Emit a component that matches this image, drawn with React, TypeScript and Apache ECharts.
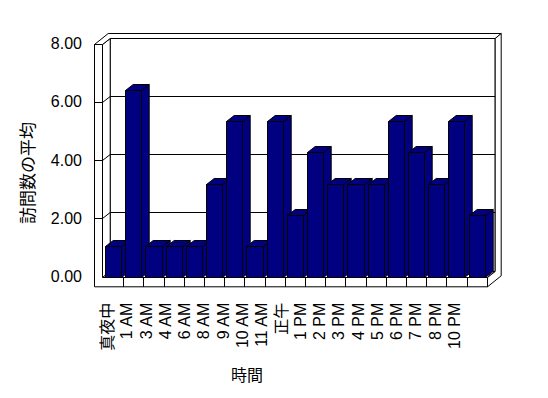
import React, { useEffect, useRef } from "react";
import * as echarts from "echarts";

const categories = ["真夜中", "1 AM", "3 AM", "4 AM", "6 AM", "8 AM", "9 AM", "10 AM", "11 AM", "正午", "1 PM", "2 PM", "3 PM", "4 PM", "5 PM", "6 PM", "7 PM", "8 PM", "10 PM"];
const visitAverages = [1.07, 6.4, 1.07, 1.07, 1.07, 3.2, 5.33, 1.07, 5.33, 2.13, 4.27, 3.2, 3.2, 3.2, 5.33, 4.27, 3.2, 5.33, 2.13];
const yTicks = [0, 2, 4, 6, 8];
const yAxisTitle = "訪問数の平均";
const xAxisTitle = "時間";

const W = 548;
const H = 398;
const FONT = '"Liberation Sans", Arial, "Noto Sans CJK JP", sans-serif';
const BAR = "#000080";
const DX = 7.7;
const DY = -6;
const DX2 = 6;
const DY2 = -5;
const WALL = 8;
const SLAB = 9.3;

const px = (v: number) => Math.round(v) + 0.5;

export default function App() {
  const ref = useRef<HTMLDivElement>(null);
  useEffect(() => {
    const chart = echarts.init(ref.current!, null, { renderer: "svg", width: W, height: H });
    chart.setOption({
      animation: false,
      backgroundColor: "#fff",
      grid: [
        { left: 103, right: 61.3, top: 43.7, bottom: 121.3 },
        { left: 97.9, right: 83.9, top: 43.7, bottom: 121.3 },
      ],
      xAxis: [
        { type: "category", data: categories, gridIndex: 0, axisLine: { show: false }, axisTick: { show: false }, axisLabel: { show: false } },
        {
          type: "category", data: categories, gridIndex: 1,
          axisLine: { show: false }, axisTick: { show: false },
          axisLabel: { interval: 0, rotate: 90, margin: 26, fontSize: 16, color: "#000", fontFamily: FONT },
        },
      ],
      yAxis: [
        {
          type: "value", gridIndex: 0, min: yTicks[0], max: yTicks[yTicks.length - 1], interval: 2,
          axisLine: { show: false }, axisTick: { show: false }, splitLine: { show: false },
          axisLabel: { margin: 21, fontSize: 16, color: "#000", fontFamily: FONT, formatter: (v: number) => v.toFixed(2) },
        },
        { type: "value", gridIndex: 1, min: 0, max: 8, show: false },
      ],
      series: [
        {
          type: "custom",
          xAxisIndex: 0,
          yAxisIndex: 0,
          data: categories.map((c, i) => [i, visitAverages[i]]),
          encode: { x: 0, y: 1 },
          renderItem: (params: any, api: any) => {
            const idx = api.value(0);
            const v = api.value(1);
            const top = api.coord([idx, v]);
            const bot = api.coord([idx, 0]);
            const band = api.size([1, 0])[0];
            const bw = band * 0.8;
            const x0 = px(top[0] - bw / 2);
            const x1 = px(top[0] + bw / 2);
            const yT = px(top[1]);
            const yB = px(bot[1]);
            const st = { fill: BAR, stroke: "#000", lineWidth: 1 };
            const children: any[] = [
              { type: "polygon", shape: { points: [[x1, yT], [x1 + DX, yT + DY], [x1 + DX, yB + DY], [x1, yB]] }, style: st },
              { type: "polygon", shape: { points: [[x0, yT], [x1, yT], [x1 + DX, yT + DY], [x0 + DX, yT + DY]] }, style: st },
              { type: "rect", shape: { x: x0, y: yT, width: x1 - x0, height: yB - yT }, style: st },
            ];
            if (idx > 0) {
              const xs = px(bot[0] - band / 2);
              children.push({ type: "line", shape: { x1: xs, y1: yB, x2: xs, y2: yB + SLAB }, style: { stroke: "#000", lineWidth: 1 } });
            }
            return { type: "group", children };
          },
        },
      ],
    });

    const yOf = (v: number) => chart.convertToPixel({ yAxisIndex: 0 }, v) as number;
    const c0 = chart.convertToPixel({ xAxisIndex: 0 }, 0) as number;
    const c1 = chart.convertToPixel({ xAxisIndex: 0 }, 1) as number;
    const band = c1 - c0;
    const xI = px(c0 - band / 2 - 1);
    const xL = xI - WALL;
    const xR = px((chart.convertToPixel({ xAxisIndex: 0 }, categories.length - 1) as number) + band / 2);
    const yT = px(yOf(yTicks[yTicks.length - 1]));
    const yB = px(yOf(0));
    const yF = yB + SLAB;
    const xBL = xI + DX, xBR = xR + DX, yBT = yT + DY, yBB = yB + DY;
    const xO = xBR + DX2, yOT = yBT + DY2;
    const face = { fill: "#fff", stroke: "#000", lineWidth: 1 };
    const graphic: any[] = [
      { type: "polygon", shape: { points: [[xBL, yBT], [xBR, yBT], [xBR, yBB], [xBL, yBB]] }, style: face },
      { type: "polygon", shape: { points: [[xI, yT], [xBL, yBT], [xBL, yBB], [xI, yB]] }, style: face },
      { type: "polygon", shape: { points: [[xI, yB], [xR, yB], [xBR, yBB], [xBL, yBB]] }, style: face },
      { type: "polygon", shape: { points: [[xL, yT], [xI, yT], [xBL, yBT], [xBR, yBT], [xO, yOT], [xL + DX + DX2, yOT]] }, style: face },
      { type: "polygon", shape: { points: [[xBR, yBT], [xO, yOT], [xO, yF + DY + DY2], [xR, yF], [xR, yB], [xBR, yBB]] }, style: face },
      { type: "polygon", shape: { points: [[xL, yT], [xI, yT], [xI, yB], [xR, yB], [xR, yF], [xL, yF]] }, style: face },
    ];
    yTicks.slice(1, -1).forEach((v) => {
      const y = px(yOf(v));
      graphic.push({ type: "polyline", shape: { points: [[xL, y], [xI, y], [xBL, y + DY], [xBR, y + DY]] }, style: { stroke: "#000", lineWidth: 1, fill: null } });
    });
    graphic.push({
      type: "text", x: 28, y: 173, rotation: Math.PI / 2,
      style: { text: yAxisTitle, fontSize: 17, fontFamily: FONT, fill: "#000", align: "center", verticalAlign: "middle", textAlign: "center", textVerticalAlign: "middle" },
    });
    graphic.push({
      type: "text", x: 247, y: 375,
      style: { text: xAxisTitle, fontSize: 16, fontFamily: FONT, fill: "#000", align: "center", verticalAlign: "middle", textAlign: "center", textVerticalAlign: "middle" },
    });
    chart.setOption({ graphic });
    return () => chart.dispose();
  }, []);
  return <div ref={ref} style={{ position: "fixed", left: 0, top: 0, width: W, height: H }} />;
}
